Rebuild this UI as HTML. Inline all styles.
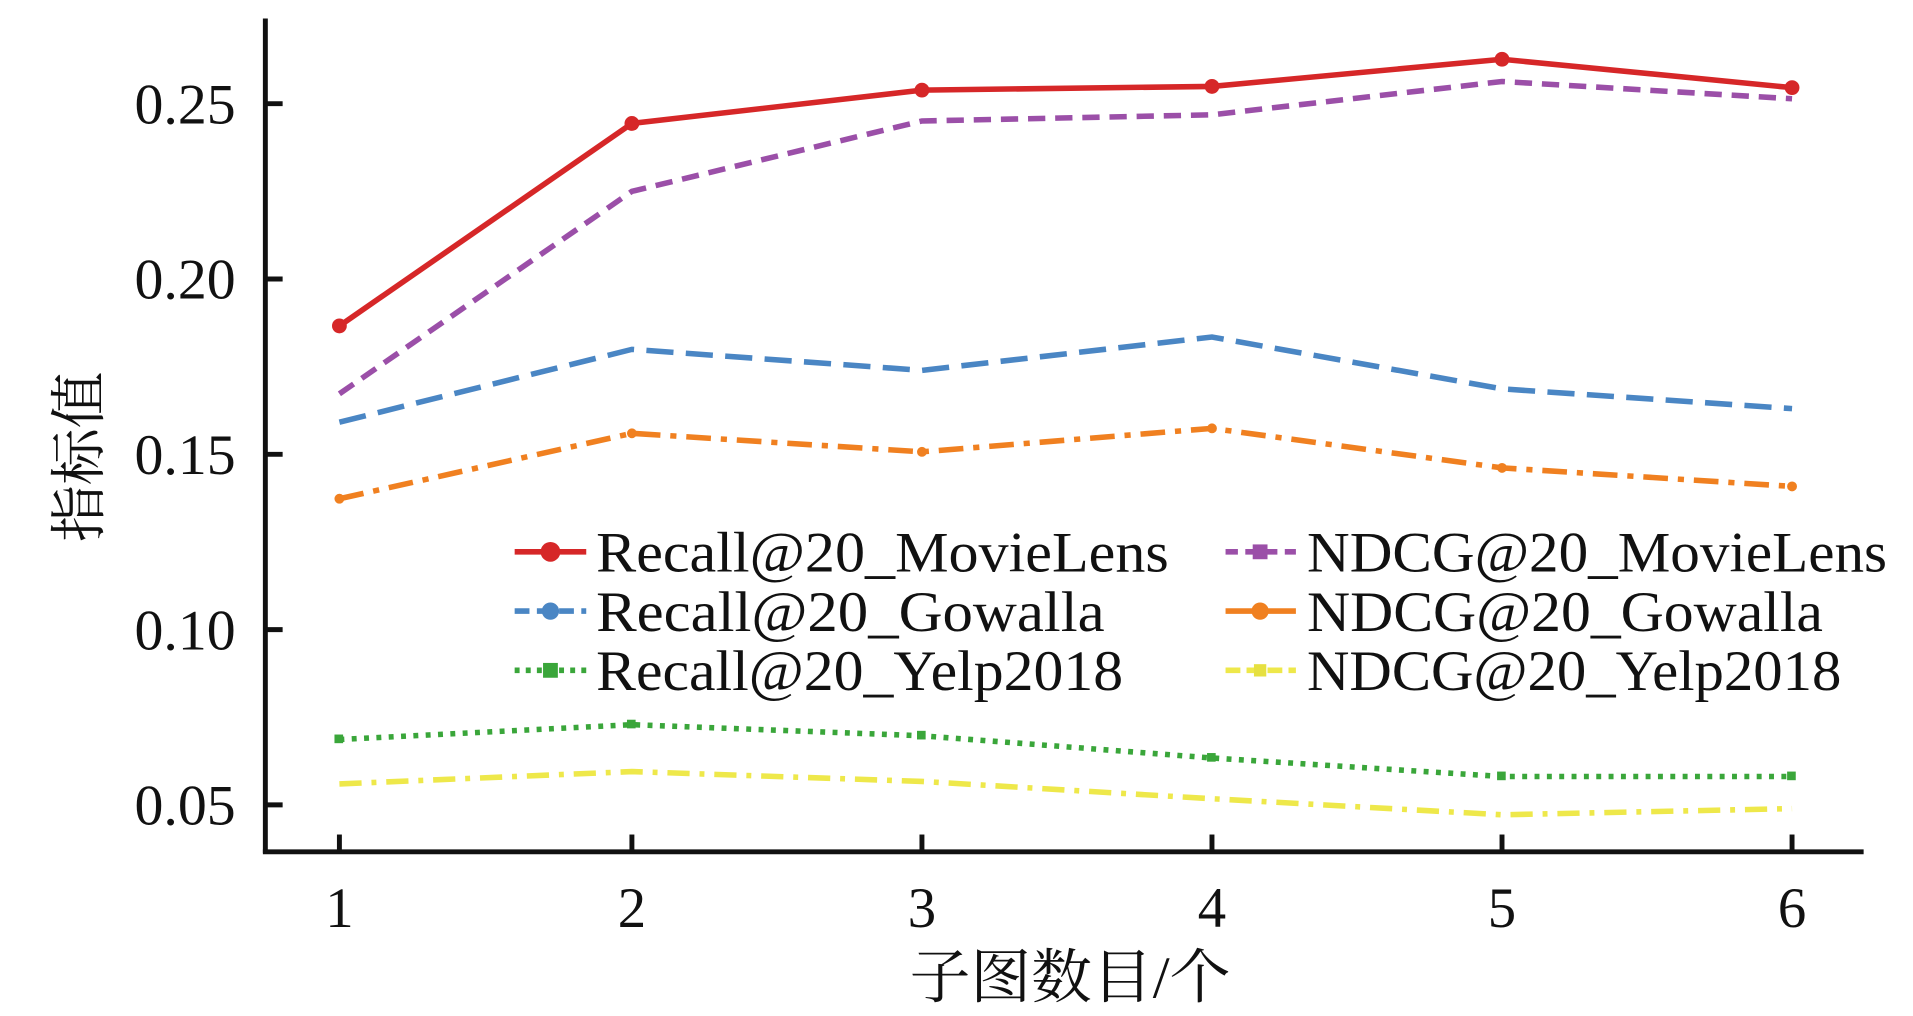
<!DOCTYPE html>
<html><head><meta charset="utf-8"><style>
html,body{margin:0;padding:0;background:#fff;}
svg{display:block}
text{font-family:"Liberation Serif","Noto Serif CJK SC",serif;fill:#111}
</style></head><body>
<svg width="1913" height="1016" viewBox="0 0 1550 823" preserveAspectRatio="none" xmlns="http://www.w3.org/2000/svg">
<g stroke="#111" stroke-width="4" fill="none">
<line x1="215" y1="15" x2="215" y2="691"/>
<line x1="213" y1="690" x2="1510" y2="690"/>
<line x1="215" y1="84" x2="229" y2="84"/><line x1="215" y1="226" x2="229" y2="226"/>
<line x1="215" y1="368" x2="229" y2="368"/><line x1="215" y1="510" x2="229" y2="510"/>
<line x1="215" y1="652" x2="229" y2="652"/>
<line x1="275" y1="676" x2="275" y2="690"/><line x1="512" y1="676" x2="512" y2="690"/>
<line x1="747" y1="676" x2="747" y2="690"/><line x1="982" y1="676" x2="982" y2="690"/>
<line x1="1217" y1="676" x2="1217" y2="690"/><line x1="1452" y1="676" x2="1452" y2="690"/>
</g>
<g font-size="46" text-anchor="end">
<text x="191" y="100" textLength="82" lengthAdjust="spacingAndGlyphs">0.25</text>
<text x="191" y="242" textLength="82" lengthAdjust="spacingAndGlyphs">0.20</text>
<text x="191" y="384" textLength="82" lengthAdjust="spacingAndGlyphs">0.15</text>
<text x="191" y="526" textLength="82" lengthAdjust="spacingAndGlyphs">0.10</text>
<text x="191" y="668" textLength="82" lengthAdjust="spacingAndGlyphs">0.05</text>
</g>
<g font-size="46" text-anchor="middle">
<text x="275" y="751">1</text><text x="512" y="751">2</text><text x="747" y="751">3</text>
<text x="982" y="751">4</text><text x="1217" y="751">5</text><text x="1452" y="751">6</text>
<text x="867" y="808" font-size="48" textLength="260" lengthAdjust="spacingAndGlyphs">子图数目/个</text>
</g>
<text transform="translate(80,370) rotate(-90)" font-size="46" text-anchor="middle">指标值</text>
<g fill="none" stroke-width="4.5">
<polyline stroke="#d62728" points="275,264 512,100 747,73 982,70 1217,48 1452,71"/>
<polyline stroke="#9b4fa8" stroke-dasharray="14,8" points="275,319 512,155 747,98 982,93 1217,66 1452,80"/>
<polyline stroke="#4a86c4" stroke-dasharray="22,10" points="275,342 512,283 747,300 982,273 1217,315 1452,331"/>
<polyline stroke="#f08020" stroke-dasharray="20,8,5,8" points="275,404 512,351 747,366 982,347 1217,379 1452,394"/>
<polyline stroke="#3aa63a" stroke-dasharray="4,6" points="275,599 512,587 747,596 982,614 1217,629 1452,629"/>
<polyline stroke="#eee84a" stroke-dasharray="18,8,4,8" points="275,635 512,625 747,633 982,647 1217,660 1452,655"/>
</g>
<g fill="#d62728"><circle cx="275" cy="264" r="6"/><circle cx="512" cy="100" r="6"/><circle cx="747" cy="73" r="6"/><circle cx="982" cy="70" r="6"/><circle cx="1217" cy="48" r="6"/><circle cx="1452" cy="71" r="6"/></g>
<g fill="#3aa63a"><rect x="271" y="595" width="7" height="7"/><rect x="508" y="583" width="7" height="7"/><rect x="743" y="592" width="7" height="7"/><rect x="978" y="610" width="7" height="7"/><rect x="1213" y="625" width="7" height="7"/><rect x="1448" y="625" width="7" height="7"/></g>
<g fill="#f08020"><circle cx="275" cy="404" r="4"/><circle cx="512" cy="351" r="4"/><circle cx="747" cy="366" r="4"/><circle cx="982" cy="347" r="4"/><circle cx="1217" cy="379" r="4"/><circle cx="1452" cy="394" r="4"/></g>
<g stroke-width="4.5" fill="none">
<line x1="417" y1="447" x2="475" y2="447" stroke="#d62728"/>
<line x1="417" y1="495" x2="475" y2="495" stroke="#4a86c4" stroke-dasharray="12,6"/>
<line x1="417" y1="543" x2="475" y2="543" stroke="#3aa63a" stroke-dasharray="4,5"/>
<line x1="993" y1="447" x2="1050" y2="447" stroke="#9b4fa8" stroke-dasharray="10,6"/>
<line x1="993" y1="495" x2="1050" y2="495" stroke="#f08020"/>
<line x1="993" y1="543" x2="1050" y2="543" stroke="#eee84a" stroke-dasharray="12,5"/>
</g>
<circle cx="446" cy="447" r="8" fill="#d62728"/>
<circle cx="446" cy="495" r="7" fill="#4a86c4"/>
<rect x="440" y="537" width="12" height="12" fill="#3aa63a"/>
<rect x="1015" y="441" width="12" height="12" fill="#9b4fa8"/>
<circle cx="1021" cy="495" r="7" fill="#f08020"/>
<rect x="1016" y="538" width="10" height="10" fill="#e6e040"/>
<g font-size="46">
<text x="483" y="463" textLength="464" lengthAdjust="spacingAndGlyphs">Recall@20_MovieLens</text>
<text x="483" y="511" textLength="412" lengthAdjust="spacingAndGlyphs">Recall@20_Gowalla</text>
<text x="483" y="559" textLength="427" lengthAdjust="spacingAndGlyphs">Recall@20_Yelp2018</text>
<text x="1059" y="463" textLength="470" lengthAdjust="spacingAndGlyphs">NDCG@20_MovieLens</text>
<text x="1059" y="511" textLength="418" lengthAdjust="spacingAndGlyphs">NDCG@20_Gowalla</text>
<text x="1059" y="559" textLength="433" lengthAdjust="spacingAndGlyphs">NDCG@20_Yelp2018</text>
</g>
</svg>
</body></html>
